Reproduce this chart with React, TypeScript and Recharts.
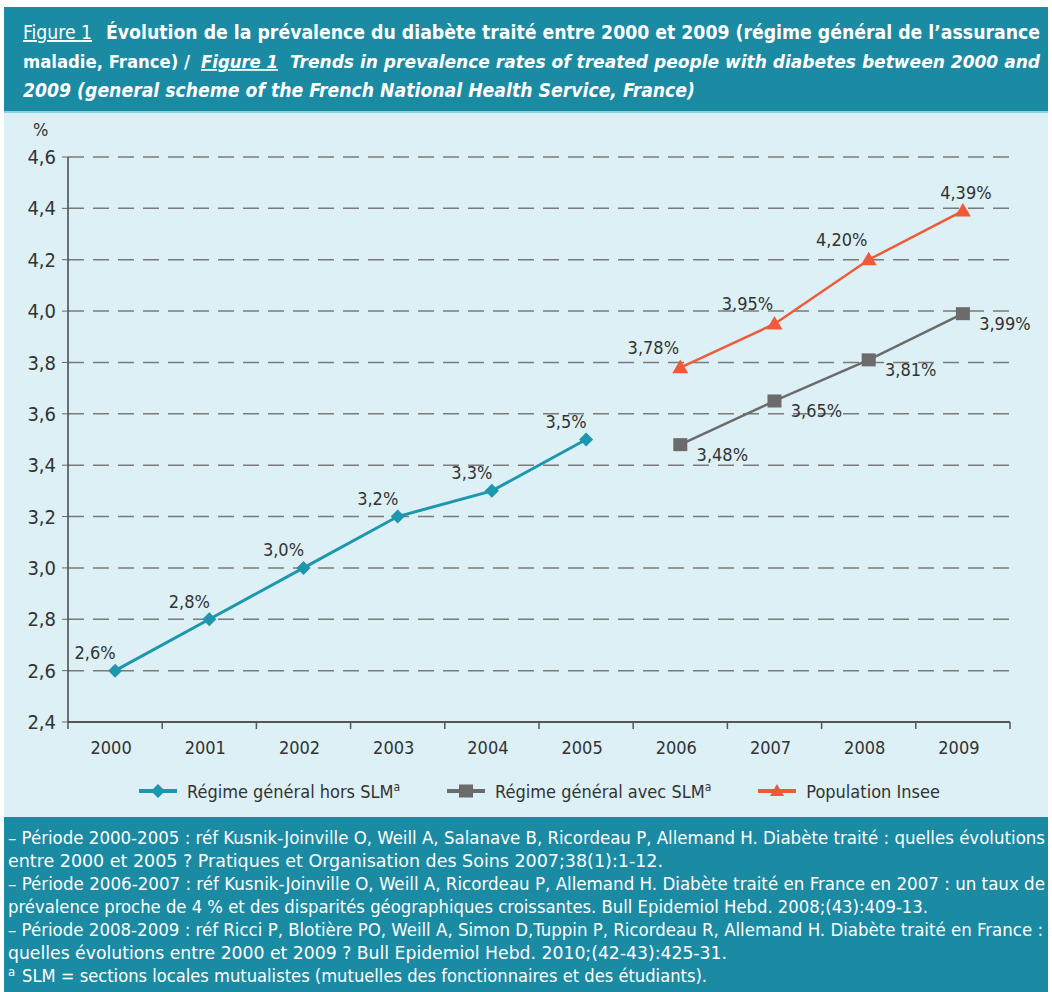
import React from 'react'
import { LineChart, Line, XAxis, YAxis, CartesianGrid, LabelList } from 'recharts'

const years = ['2000', '2001', '2002', '2003', '2004', '2005', '2006', '2007', '2008', '2009']
const horsSlm = [2.6, 2.8, 3.0, 3.2, 3.3, 3.5, null, null, null, null]
const avecSlm = [null, null, null, null, null, null, 3.48, 3.65, 3.81, 3.99]
const insee = [null, null, null, null, null, null, 3.78, 3.95, 4.2, 4.39]
const yTicks = [2.4, 2.6, 2.8, 3.0, 3.2, 3.4, 3.6, 3.8, 4.0, 4.2, 4.4, 4.6]

const figLabel = 'Figure 1'
const titleFr = 'Évolution de la prévalence du diabète traité entre 2000 et 2009 (régime général de l’assurance'
const titleFr2 = 'maladie, France) /'
const titleEn = 'Trends in prevalence rates of treated people with diabetes between 2000 and'
const titleEn2 = '2009 (general scheme of the French National Health Service, France)'

const notes = [
  '– Période 2000-2005 : réf Kusnik-Joinville O, Weill A, Salanave B, Ricordeau P, Allemand H. Diabète traité : quelles évolutions',
  'entre 2000 et 2005 ? Pratiques et Organisation des Soins 2007;38(1):1-12.',
  '– Période 2006-2007 : réf Kusnik-Joinville O, Weill A, Ricordeau P, Allemand H. Diabète traité en France en 2007 : un taux de',
  'prévalence proche de 4 % et des disparités géographiques croissantes. Bull Epidemiol Hebd. 2008;(43):409-13.',
  '– Période 2008-2009 : réf  Ricci P, Blotière PO, Weill A, Simon D,Tuppin P, Ricordeau R, Allemand H. Diabète traité en France :',
  'quelles évolutions entre 2000 et 2009 ? Bull Epidemiol Hebd. 2010;(42-43):425-31.',
]
const noteWidths = [1037, 655, 1037, 920, 1035, 719]
const slmNote = 'SLM = sections locales mutualistes (mutuelles des fonctionnaires et des étudiants).'

const data = years.map((year, i) => ({
  year,
  hors: horsSlm[i],
  avec: avecSlm[i],
  insee: insee[i],
}))

const FONT = "'DejaVu Sans Condensed', 'DejaVu Sans', sans-serif"
const TEAL = '#1c97ad'
const GREY = '#6b6b6b'
const RED = '#ee5a3a'
const BAND = '#1b8aa3'
const TEXT = '#333'

const CHART_W = 1052
const CHART_H = 703
const MARGIN = { top: 44, right: 42, bottom: 54, left: 18 }
const Y_W = 50
const STEP = (CHART_W - MARGIN.left - MARGIN.right - Y_W) / years.length

const fmt = (v: number, d: number) => v.toFixed(d).replace('.', ',')

const Diamond = ({ cx, cy, fill, size = 7 }: any) => {
  if (cx == null || cy == null) return null
  return <polygon points={`${cx},${cy - size} ${cx + size},${cy} ${cx},${cy + size} ${cx - size},${cy}`} fill={fill} />
}

const Square = ({ cx, cy, fill, size = 7 }: any) => {
  if (cx == null || cy == null) return null
  return <rect x={cx - size} y={cy - size + 0.5} width={size * 2} height={size * 2 - 1} fill={fill} />
}

const Triangle = ({ cx, cy, fill, size = 8 }: any) => {
  if (cx == null || cy == null) return null
  return <polygon points={`${cx},${cy - size} ${cx + size},${cy + size * 0.7} ${cx - size},${cy + size * 0.7}`} fill={fill} />
}

const series = [
  { key: 'hors', name: 'Régime général hors SLM', sup: 'a', color: TEAL, width: 3, shape: Diamond, digits: 1, dx: -20, dy: -18 },
  { key: 'avec', name: 'Régime général avec SLM', sup: 'a', color: GREY, width: 2.5, shape: Square, digits: 2, dx: 42, dy: 10 },
  { key: 'insee', name: 'Population Insee', sup: '', color: RED, width: 2.5, shape: Triangle, digits: 2, dx: -27, dy: -20 },
]

const makeLabel = (s: any) => (props: any) => {
  const { x, y, value, index } = props
  if (value == null || x == null) return null
  let dx = s.dx
  let dy = s.dy
  // last red label sits straight above its point
  if (s.key === 'insee' && index === years.length - 1) {
    dx = 3
    dy = -18
  }
  return (
    <text x={x + dx} y={y + dy} textAnchor="middle" dominantBaseline="central" fill={TEXT} fontSize={18} fontFamily={FONT}>
      {fmt(value, s.digits)}%
    </text>
  )
}

const YearTick = ({ x, y, payload, index }: any) => (
  <g>
    <line x1={x - STEP / 2} y1={y - 7} x2={x - STEP / 2} y2={y} stroke="#555" strokeWidth={1.5} />
    {index === years.length - 1 && (
      <line x1={x + STEP / 2} y1={y - 7} x2={x + STEP / 2} y2={y} stroke="#555" strokeWidth={1.5} />
    )}
    <text x={x - 4} y={y + 18} textAnchor="middle" dominantBaseline="central" fill={TEXT} fontSize={18} fontFamily={FONT}>
      {payload.value}
    </text>
  </g>
)

const LegendIcon = ({ s }: any) => {
  const Shape = s.shape
  return (
    <svg width={40} height={20} style={{ marginRight: 9, verticalAlign: 'middle' }}>
      <line x1={1} y1={10} x2={39} y2={10} stroke={s.color} strokeWidth={4} />
      <Shape cx={20} cy={10} fill={s.color} size={7} />
    </svg>
  )
}

export default function App() {
  return (
    <div style={{ position: 'absolute', left: 0, top: 0, width: 1052, height: 992, background: '#fff', fontFamily: FONT, overflow: 'hidden' }}>
      <svg style={{ position: 'absolute', left: 4, top: 7 }} width={1044} height={106}>
        <rect x={0} y={0} width={1044} height={104} fill={BAND} />
        <rect x={0} y={104} width={1044} height={2} fill="#86d4e3" />
        <g fill="#fff" fontFamily={FONT}>
          <text x={19} y={32} fontSize={19} textLength={69} lengthAdjust="spacingAndGlyphs" textDecoration="underline">
            {figLabel}
          </text>
          <text x={102} y={32} fontSize={19} textLength={934} lengthAdjust="spacingAndGlyphs" fontWeight={700}>
            {titleFr}
          </text>
          <text x={19} y={61} fontSize={18.5} textLength={167} lengthAdjust="spacingAndGlyphs" fontWeight={700}>
            {titleFr2}
          </text>
          <text x={197} y={61} fontSize={18} textLength={77} lengthAdjust="spacingAndGlyphs" fontWeight={700} fontStyle="italic" textDecoration="underline">
            {figLabel}
          </text>
          <text x={286} y={61} fontSize={17.5} textLength={750} lengthAdjust="spacingAndGlyphs" fontWeight={700} fontStyle="italic">
            {titleEn}
          </text>
          <text x={19} y={90} fontSize={19} textLength={672} lengthAdjust="spacingAndGlyphs" fontWeight={700} fontStyle="italic">
            {titleEn2}
          </text>
        </g>
      </svg>

      <div style={{ position: 'absolute', left: 4, top: 113, width: 1044, height: 704, background: '#dcf0f5' }} />

      <div style={{ position: 'absolute', left: 33, top: 119, fontSize: 18, color: TEXT }}>%</div>

      <div style={{ position: 'absolute', left: 0, top: 113 }}>
        <LineChart width={CHART_W} height={CHART_H} data={data} margin={MARGIN}>
          <CartesianGrid vertical={false} stroke="#7a7a7a" strokeWidth={1.5} strokeDasharray="16 9" />
          <XAxis
            dataKey="year"
            padding={{ left: STEP / 2, right: STEP / 2 }}
            axisLine={{ stroke: '#555', strokeWidth: 2 }}
            tickLine={false}
            tickSize={7}
            tickMargin={0}
            height={40}
            interval={0}
            tick={<YearTick />}
          />
          <YAxis
            width={Y_W}
            domain={[2.4, 4.6]}
            ticks={yTicks}
            interval={0}
            tickFormatter={(v: number) => fmt(v, 1)}
            axisLine={{ stroke: '#444', strokeWidth: 1.5 }}
            tickLine={{ stroke: '#666' }}
            tickSize={6}
            tickMargin={6}
            tick={{ fill: TEXT, fontSize: 20, fontFamily: FONT }}
          />
          {series.map((s) => (
            <Line
              key={s.key}
              dataKey={s.key}
              name={s.name}
              stroke={s.color}
              strokeWidth={s.width}
              dot={<s.shape fill={s.color} />}
              activeDot={false}
              isAnimationActive={false}
            >
              <LabelList dataKey={s.key} content={makeLabel(s)} />
            </Line>
          ))}
        </LineChart>
      </div>

      <div style={{ position: 'absolute', left: 138, top: 780, display: 'flex', fontSize: 18, color: TEXT }}>
        {series.map((s) => (
          <div key={s.key} style={{ display: 'flex', alignItems: 'center', marginRight: 46 }}>
            <LegendIcon s={s} />
            <span>
              {s.name}
              {s.sup && <sup style={{ fontSize: 12 }}>{s.sup}</sup>}
            </span>
          </div>
        ))}
      </div>

      <svg style={{ position: 'absolute', left: 4, top: 817 }} width={1044} height={175}>
        <rect x={0} y={0} width={1044} height={175} fill={BAND} />
        <g fill="#fff" fontFamily={FONT} fontSize={18}>
          {notes.map((n, i) => (
            <text key={i} x={4} y={27 + i * 23} textLength={noteWidths[i]} lengthAdjust="spacingAndGlyphs">
              {n}
            </text>
          ))}
          <text x={4} y={27 + 6 * 23 - 6} fontSize={13}>a</text>
          <text x={18} y={27 + 6 * 23} textLength={685} lengthAdjust="spacingAndGlyphs">
            {slmNote}
          </text>
        </g>
      </svg>
    </div>
  )
}
